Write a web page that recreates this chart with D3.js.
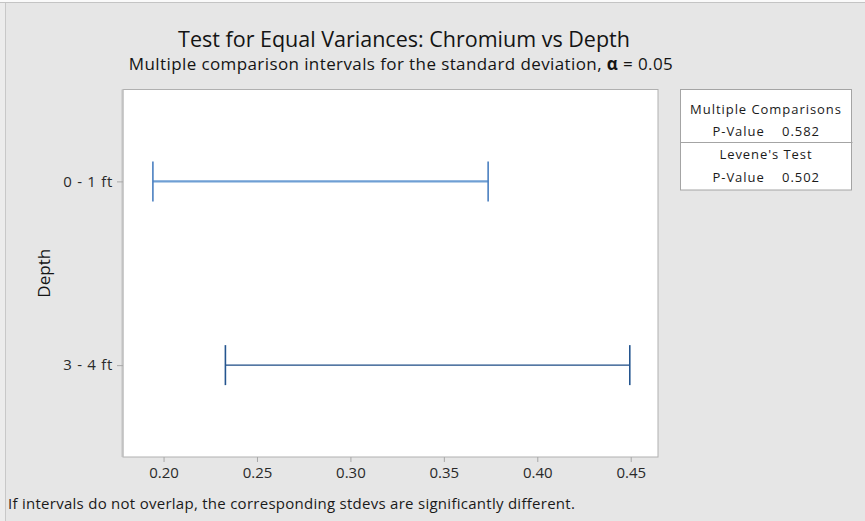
<!DOCTYPE html>
<html>
<head>
<meta charset="utf-8">
<script src="https://cdn.jsdelivr.net/npm/d3@7"></script>
<style>
  html, body { margin: 0; padding: 0; background: #ffffff; }
  svg { display: block; font-family: "Open Sans", "Noto Sans", sans-serif; }
</style>
</head>
<body>
<svg id="chart" width="865" height="521"></svg>
<script>
// Depth groups and their 95% multiple-comparison intervals for the stdev of chromium
const depths = ["0 - 1 ft", "3 - 4 ft"];
const lowerBounds = [0.1943, 0.2331];
const upperBounds = [0.3737, 0.4495];
const xTicks = [0.20, 0.25, 0.30, 0.35, 0.40, 0.45];

// Summary test results shown in the side panel
const testNames = ["Multiple Comparisons", "Levene's Test"];
const pValues = ["0.582", "0.502"];

const svg = d3.select("#chart");
const W = 865, H = 521;

// window frame
svg.append("rect").attr("x", 0).attr("y", 0).attr("width", W).attr("height", H).attr("fill", "#e6e6e6");
svg.append("rect").attr("x", 0).attr("y", 0).attr("width", W).attr("height", 2).attr("fill", "#fafafa");
svg.append("line").attr("x1", 0).attr("x2", W).attr("y1", 2.5).attr("y2", 2.5).attr("stroke", "#c4c4c4");
svg.append("rect").attr("x", 0).attr("y", 3).attr("width", 5).attr("height", H).attr("fill", "#ececec");
svg.append("line").attr("x1", 5.5).attr("x2", 5.5).attr("y1", 3).attr("y2", H).attr("stroke", "#c8c8c8");

const plot = { left: 123, right: 658, top: 89.5, bottom: 457 };

const x = d3.scaleLinear().domain([0.1783, 0.4646]).range([plot.left, plot.right]);
const y = d3.scalePoint().domain(depths).range([plot.top, plot.bottom]).padding(0.5);

// plot area
svg.append("rect")
  .attr("x", plot.left).attr("y", plot.top)
  .attr("width", plot.right - plot.left).attr("height", plot.bottom - plot.top)
  .attr("fill", "#ffffff").attr("stroke", "#b0b0b0").attr("stroke-width", 1);
svg.append("line")
  .attr("x1", plot.left - 0.5).attr("x2", plot.left - 0.5)
  .attr("y1", plot.top).attr("y2", plot.bottom)
  .attr("stroke", "#c2c2c2").attr("stroke-width", 2);

// axes
const xAxis = svg.append("g")
  .attr("transform", `translate(0,${plot.bottom})`)
  .call(d3.axisBottom(x).tickValues(xTicks).tickFormat(d3.format(".2f")).tickSize(5).tickPadding(5));
const yAxis = svg.append("g")
  .attr("transform", `translate(${plot.left},0)`)
  .call(d3.axisLeft(y).tickSize(6).tickPadding(4));
[xAxis, yAxis].forEach(a => {
  a.select(".domain").remove();
  a.selectAll(".tick line").attr("stroke", "#a8a8a8");
  a.selectAll(".tick text").attr("fill", "#2a2a2a").style("font-size", "15px")
    .style("font-family", "'Open Sans', 'Noto Sans', sans-serif");
});
yAxis.selectAll(".tick text").style("letter-spacing", "0.7px");

// interval styles per depth
const lineColor = ["#6f9fd4", "#1b4a85"];
const capColor = ["#4a7fc0", "#24558f"];
const lineWidth = [2.2, 1.2];
const capHalf = 20;

const intervals = svg.append("g");
depths.forEach((d, i) => {
  const g = intervals.append("g");
  const cy = y(d);
  g.append("line")
    .attr("x1", x(lowerBounds[i])).attr("x2", x(upperBounds[i]))
    .attr("y1", cy).attr("y2", cy)
    .attr("stroke", lineColor[i]).attr("stroke-width", lineWidth[i]);
  [lowerBounds[i], upperBounds[i]].forEach(v => {
    g.append("line")
      .attr("x1", x(v)).attr("x2", x(v))
      .attr("y1", cy - capHalf).attr("y2", cy + capHalf)
      .attr("stroke", capColor[i]).attr("stroke-width", 1.6);
  });
});

// titles
svg.append("text")
  .attr("x", 404).attr("y", 47).attr("text-anchor", "middle")
  .attr("fill", "#141414").style("font-size", "21.5px")
  .text("Test for Equal Variances: Chromium vs Depth");
const sub = svg.append("text")
  .attr("x", 401).attr("y", 70).attr("text-anchor", "middle")
  .attr("fill", "#141414").style("font-size", "17px").style("letter-spacing", "0.4px");
sub.append("tspan").text("Multiple comparison intervals for the standard deviation, ");
sub.append("tspan").style("font-weight", "bold").text("α");
sub.append("tspan").text(" = 0.05");

// y-axis title
svg.append("text")
  .attr("transform", `translate(50,${(plot.top + plot.bottom) / 2}) rotate(-90)`)
  .attr("text-anchor", "middle").attr("fill", "#141414").style("font-size", "17px")
  .text("Depth");

// footnote
svg.append("text")
  .attr("x", 8).attr("y", 509).attr("fill", "#1a1a1a")
  .style("font-size", "15px").style("letter-spacing", "0.27px")
  .text("If intervals do not overlap, the corresponding stdevs are significantly different.");

// side panel with test results
const box = { x: 680.5, y: 89.5, w: 171, h: 100.5, split: 142.5 };
svg.append("rect")
  .attr("x", box.x).attr("y", box.y).attr("width", box.w).attr("height", box.h)
  .attr("fill", "#ffffff").attr("stroke", "#a4a4a4");
svg.append("line")
  .attr("x1", box.x).attr("x2", box.x + box.w + 1)
  .attr("y1", box.split).attr("y2", box.split).attr("stroke", "#a4a4a4");
const rowBase = [[114, 136], [158.5, 182]];
const panelText = sel => sel.attr("fill", "#1a1a1a").style("font-size", "13px").style("letter-spacing", "0.95px");
testNames.forEach((name, i) => {
  svg.append("text")
    .attr("x", box.x + box.w / 2).attr("y", rowBase[i][0]).attr("text-anchor", "middle")
    .call(panelText).text(name);
  svg.append("text")
    .attr("x", 712.5).attr("y", rowBase[i][1])
    .call(panelText).text("P-Value");
  svg.append("text")
    .attr("x", 820).attr("y", rowBase[i][1]).attr("text-anchor", "end")
    .call(panelText).text(pValues[i]);
});
</script>
</body>
</html>
